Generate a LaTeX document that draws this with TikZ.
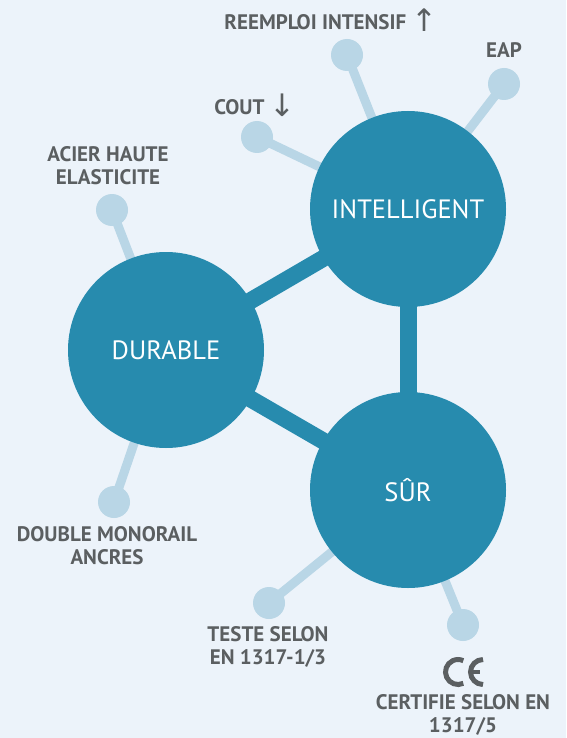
\documentclass[tikz,border=0pt]{standalone}
\usepackage{fontspec}
\setmainfont{PT Sans}
\newfontfamily\arrowfont{DejaVu Sans}
\usetikzlibrary{backgrounds}
\definecolor{bgblue}{HTML}{ECF3FA}
\definecolor{mainblue}{HTML}{278BAE}
\definecolor{paleblue}{HTML}{B9D6E6}
\definecolor{txtgray}{HTML}{5B5F61}
\tikzset{
  big/.style={circle, fill=mainblue, minimum size=196pt, inner sep=0pt,
    text=white, font=\fontsize{26.5}{30}\selectfont},
  small/.style={circle, fill=paleblue, minimum size=32pt, inner sep=0pt},
  lbl/.style={text=txtgray, align=center, inner sep=0pt,
    font=\bfseries\fontsize{21}{23}\selectfont},
  stem/.style={draw=paleblue, line width=9pt},
  link/.style={draw=mainblue, line width=17pt}
}
\newcommand{\arrowsym}[1]{\raisebox{-1.5pt}{\arrowfont\mdseries\fontsize{31}{31}\selectfont #1}}

\begin{document}
\begin{tikzpicture}[x=1pt, y=-1pt]
\useasboundingbox (0,0) rectangle (566,738);
\node[big] (intel) at (408,209) {INTELLIGENT};
\node[big] (durable) at (166,350) {DURABLE};
\node[big] (sur) at (408,490) {SÛR};
\node[small] (reemploi) at (347,55) {};
\node[small] (eap) at (504,84) {};
\node[small] (cout) at (257,137) {};
\node[small] (acier) at (112,210) {};
\node[small] (monorail) at (114,502) {};
\node[small] (teste) at (269,603) {};
\node[small] (certifie) at (463,625) {};
\node[lbl] (reemploitxt) at (331,20) {REEMPLOI INTENSIF \arrowsym{↑}};
\node[lbl] (eaptxt) at (504,50) {EAP};
\node[lbl] (couttxt) at (255,105) {COUT \arrowsym{↓}};
\node[lbl] (aciertxt) at (108,166) {ACIER HAUTE\\ELASTICITE};
\node[lbl] (monorailtxt) at (107,546) {DOUBLE MONORAIL\\ANCRES};
\node[lbl] (testetxt) at (268,647) {TESTE SELON\\EN 1317-1/3};
\node[lbl] (certifietxt) at (463,715) {CERTIFIE SELON EN\\1317/5};
\draw[txtgray, line width=5pt] (458,672) ++(65:12.5) arc[start angle=65, end angle=295, radius=12.5];
\draw[txtgray, line width=5pt] (483,672) ++(90:12.5) arc[start angle=90, end angle=270, radius=12.5];
\draw[txtgray, line width=4.5pt] (470.5,672) -- (480,672);
\begin{scope}[on background layer]
\fill[bgblue] (0,0) rectangle (566,738);
\draw[link] (durable.center) -- (intel.center);
\draw[link] (durable.center) -- (sur.center);
\draw[link] (intel.center) -- (sur.center);
\draw[stem] (reemploi.center) -- (intel.center);
\draw[stem] (eap.center) -- (intel.center);
\draw[stem] (cout.center) -- (intel.center);
\draw[stem] (acier.center) -- (durable.center);
\draw[stem] (monorail.center) -- (durable.center);
\draw[stem] (teste.center) -- (sur.center);
\draw[stem] (certifie.center) -- (sur.center);
\end{scope}
\end{tikzpicture}
\end{document}
